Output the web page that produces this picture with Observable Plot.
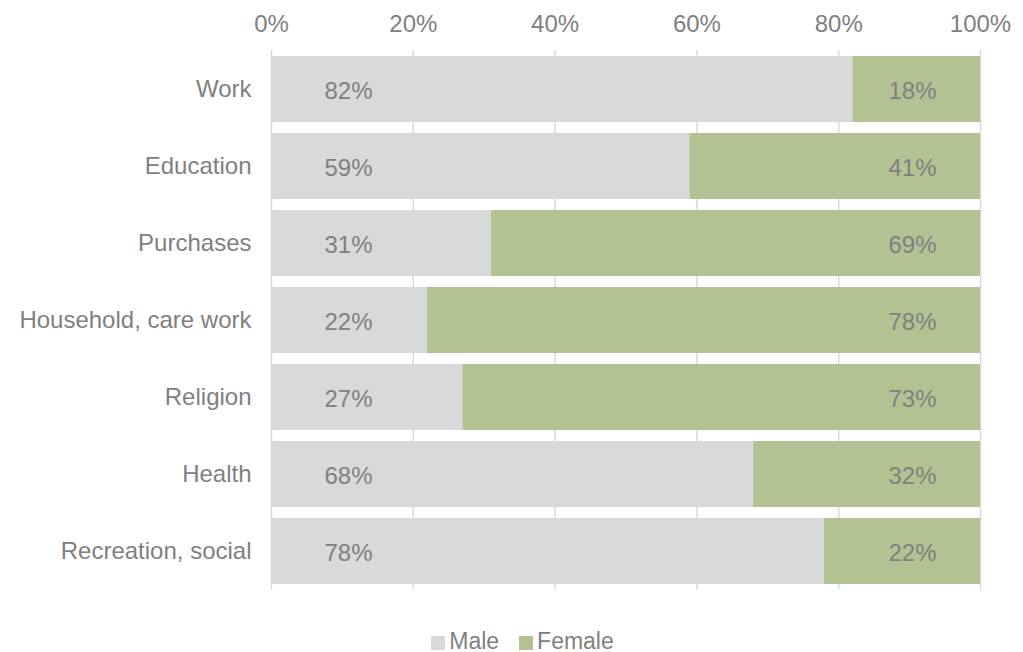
<!DOCTYPE html>
<html>
<head>
<meta charset="utf-8">
<script src="https://cdn.jsdelivr.net/npm/d3@7"></script>
<script src="https://cdn.jsdelivr.net/npm/@observablehq/plot@0.6"></script>
<style>
  body { margin: 0; background: #fff; font-family: "Liberation Sans", Arial, sans-serif; }
  #legend { display: flex; justify-content: center; align-items: center; gap: 20px; margin-top: 28px; margin-left: 22px; font-size: 23px; line-height: 26px; color: #808080; }
  #legend .item { display: flex; align-items: center; gap: 4px; }
  #legend .sw { width: 14px; height: 14px; display: inline-block; margin-top: 3px; }
</style>
</head>
<body>
<div id="chart"></div>
<div id="legend"></div>
<script>
const categories = ["Work", "Education", "Purchases", "Household, care work", "Religion", "Health", "Recreation, social"];
const male = [82, 59, 31, 22, 27, 68, 78];
const female = [18, 41, 69, 78, 73, 32, 22];
const series = ["Male", "Female"];
const colors = ["#d9d9d9", "#b3c292"];
const xTicks = [0, 20, 40, 60, 80, 100];

const data = categories.flatMap((c, i) => [
  {category: c, sex: "Male", value: male[i]},
  {category: c, sex: "Female", value: female[i]}
]);

const textColor = "#808080";
const fs = 24;

const chart = Plot.plot({
  width: 1023,
  height: 600,
  marginTop: 50,
  marginBottom: 10.5,
  marginLeft: 271,
  marginRight: 43,
  style: {fontFamily: "'Liberation Sans', Arial, sans-serif", background: "white"},
  x: {domain: [0, 100], axis: null},
  y: {domain: categories, paddingInner: 0.143, paddingOuter: 0.0715, axis: null},
  color: {domain: series, range: colors},
  marks: [
    Plot.ruleX(xTicks, {stroke: "#d9d9d9", strokeWidth: 1.5}),
    Plot.barX(data, Plot.stackX({x: "value", y: "category", fill: "sex"})),
    Plot.axisX({anchor: "top", ticks: xTicks, tickFormat: d => d + "%", tickSize: 0, tickPadding: 19, fontSize: fs, fill: textColor, label: null}),
    Plot.axisY({tickSize: 0, tickPadding: 20, fontSize: fs, fill: textColor, label: null}),
    Plot.text(data.filter(d => d.sex === "Male"), {x: 0, y: "category", text: d => d.value + "%", dx: 77, dy: 2, fontSize: fs, fill: textColor}),
    Plot.text(data.filter(d => d.sex === "Female"), {x: 100, y: "category", text: d => d.value + "%", dx: -68, dy: 2, fontSize: fs, fill: textColor})
  ]
});
document.getElementById("chart").append(chart);

const legend = document.getElementById("legend");
series.forEach((s, i) => {
  const item = document.createElement("span");
  item.className = "item";
  const sw = document.createElement("span");
  sw.className = "sw";
  sw.style.background = colors[i];
  item.append(sw, document.createTextNode(s));
  legend.append(item);
});
</script>
</body>
</html>
